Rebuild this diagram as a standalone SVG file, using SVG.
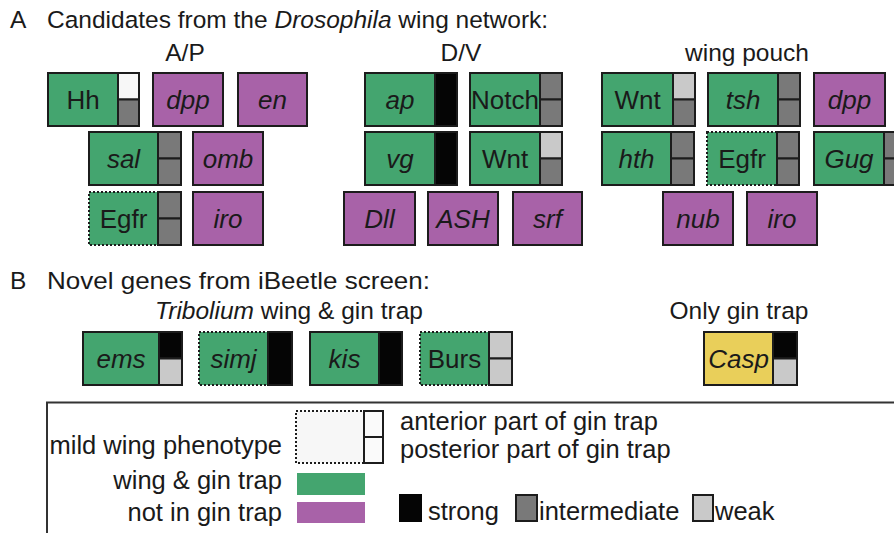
<svg xmlns="http://www.w3.org/2000/svg" width="894" height="533" viewBox="0 0 894 533">
<style>
text{font-family:"Liberation Sans",Arial,sans-serif;fill:#1a1a1a}
.h{font-size:24.5px}
.lbl{font-size:26px;text-anchor:middle}
.lg{font-size:25.5px}
.it{font-style:italic}
.g{fill:#44a56f;stroke:#1c1c1c;stroke-width:2}
.p{fill:#a862a8;stroke:#1c1c1c;stroke-width:2}
.y{fill:#e9cf5a;stroke:#1c1c1c;stroke-width:2}
.dot{stroke-dasharray:2 2}
.s{fill:#050505;stroke:#1c1c1c;stroke-width:2}
.i{fill:#797979;stroke:#1c1c1c;stroke-width:2}
.w{fill:#c9c9c9;stroke:#1c1c1c;stroke-width:2}
.e{fill:#f7f7f7;stroke:#1c1c1c;stroke-width:2}
.frame{fill:none;stroke:#333;stroke-width:2}
</style>
<rect width="894" height="533" fill="#ffffff"/>

<g id="headers">
<text class="h" x="10" y="28">A</text>
<text class="h" x="47" y="28">Candidates from the <tspan class="it">Drosophila</tspan> wing network:</text>
<text class="h" x="185" y="61" text-anchor="middle">A/P</text>
<text class="h" x="461" y="61" text-anchor="middle">D/V</text>
<text class="h" x="747" y="61" text-anchor="middle">wing pouch</text>
<text class="h" x="10" y="289">B</text>
<text class="h" x="47" y="289" textLength="383" lengthAdjust="spacingAndGlyphs">Novel genes from iBeetle screen:</text>
<text class="h" x="289" y="319" text-anchor="middle"><tspan class="it">Tribolium</tspan> wing &amp; gin trap</text>
<text class="h" x="739" y="319" text-anchor="middle">Only gin trap</text>
</g>

<!-- A/P -->
<g id="ap-Hh"><rect class="g" x="48" y="73" width="70" height="53"/><rect class="e" x="118" y="73" width="21" height="26.5"/><rect class="i" x="118" y="99.5" width="21" height="26.5"/><text class="lbl" x="83" y="109">Hh</text></g>
<g id="ap-dpp"><rect class="p" x="153" y="73" width="70" height="53"/><text class="lbl it" x="188" y="109">dpp</text></g>
<g id="ap-en"><rect class="p" x="238" y="73" width="69" height="53"/><text class="lbl it" x="272.5" y="109">en</text></g>
<g id="ap-sal"><rect class="g" x="89" y="132" width="69" height="53"/><rect class="i" x="158" y="132" width="23" height="26.5"/><rect class="i" x="158" y="158.5" width="23" height="26.5"/><text class="lbl it" x="123.5" y="168">sal</text></g>
<g id="ap-omb"><rect class="p" x="193" y="132" width="70" height="53"/><text class="lbl it" x="228" y="168">omb</text></g>
<g id="ap-Egfr"><rect class="g dot" x="89" y="192" width="69" height="53"/><rect class="i" x="158" y="192" width="23" height="26.5"/><rect class="i" x="158" y="218.5" width="23" height="26.5"/><text class="lbl" x="123.5" y="228">Egfr</text></g>
<g id="ap-iro"><rect class="p" x="193" y="192" width="70" height="53"/><text class="lbl it" x="228" y="228">iro</text></g>

<!-- D/V -->
<g id="dv-ap"><rect class="g" x="365" y="73" width="70" height="53"/><rect class="s" x="435" y="73" width="22" height="53"/><text class="lbl it" x="400" y="109">ap</text></g>
<g id="dv-Notch"><rect class="g" x="470" y="73" width="70" height="53"/><rect class="i" x="540" y="73" width="22" height="26.5"/><rect class="i" x="540" y="99.5" width="22" height="26.5"/><text class="lbl" x="505" y="109">Notch</text></g>
<g id="dv-vg"><rect class="g" x="365" y="132" width="70" height="53"/><rect class="s" x="435" y="132" width="22" height="53"/><text class="lbl it" x="400" y="168">vg</text></g>
<g id="dv-Wnt"><rect class="g" x="470" y="132" width="70" height="53"/><rect class="w" x="540" y="132" width="22" height="26.5"/><rect class="i" x="540" y="158.5" width="22" height="26.5"/><text class="lbl" x="505" y="168">Wnt</text></g>
<g id="dv-Dll"><rect class="p" x="344" y="192" width="71" height="53"/><text class="lbl it" x="379.5" y="228">Dll</text></g>
<g id="dv-ASH"><rect class="p" x="428" y="192" width="70" height="53"/><text class="lbl it" x="463" y="228">ASH</text></g>
<g id="dv-srf"><rect class="p" x="513" y="192" width="69" height="53"/><text class="lbl it" x="547.5" y="228">srf</text></g>

<!-- wing pouch -->
<g id="wp-Wnt"><rect class="g" x="602" y="73" width="71" height="53"/><rect class="w" x="673" y="73" width="22" height="26.5"/><rect class="i" x="673" y="99.5" width="22" height="26.5"/><text class="lbl" x="637.5" y="109">Wnt</text></g>
<g id="wp-tsh"><rect class="g" x="708" y="73" width="70" height="53"/><rect class="i" x="778" y="73" width="22" height="26.5"/><rect class="i" x="778" y="99.5" width="22" height="26.5"/><text class="lbl it" x="743" y="109">tsh</text></g>
<g id="wp-dpp"><rect class="p" x="814" y="73" width="71" height="53"/><text class="lbl it" x="849.5" y="109">dpp</text></g>
<g id="wp-hth"><rect class="g" x="602" y="132" width="69" height="53"/><rect class="i" x="671" y="132" width="23" height="26.5"/><rect class="i" x="671" y="158.5" width="23" height="26.5"/><text class="lbl it" x="636.5" y="168">hth</text></g>
<g id="wp-Egfr"><rect class="g dot" x="707" y="132" width="70" height="53"/><rect class="i" x="777" y="132" width="22" height="26.5"/><rect class="i" x="777" y="158.5" width="22" height="26.5"/><text class="lbl" x="742" y="168">Egfr</text></g>
<g id="wp-Gug"><rect class="g" x="814" y="132" width="70" height="53"/><rect class="i" x="884" y="132" width="22" height="26.5"/><rect class="i" x="884" y="158.5" width="22" height="26.5"/><text class="lbl it" x="849" y="168">Gug</text></g>
<g id="wp-nub"><rect class="p" x="663" y="192" width="70" height="53"/><text class="lbl it" x="698" y="228">nub</text></g>
<g id="wp-iro"><rect class="p" x="747" y="192" width="70" height="53"/><text class="lbl it" x="782" y="228">iro</text></g>

<!-- B -->
<g id="b-ems"><rect class="g" x="83" y="332" width="76" height="53"/><rect class="s" x="159" y="332" width="23" height="26.5"/><rect class="w" x="159" y="358.5" width="23" height="26.5"/><text class="lbl it" x="121" y="368">ems</text></g>
<g id="b-simj"><rect class="g dot" x="199" y="332" width="69" height="53"/><rect class="s" x="268" y="332" width="24" height="53"/><text class="lbl it" x="233.5" y="368">simj</text></g>
<g id="b-kis"><rect class="g" x="310" y="332" width="69" height="53"/><rect class="s" x="379" y="332" width="23" height="53"/><text class="lbl it" x="344.5" y="368">kis</text></g>
<g id="b-Burs"><rect class="g dot" x="420" y="332" width="69" height="53"/><rect class="w" x="489" y="332" width="23" height="26.5"/><rect class="w" x="489" y="358.5" width="23" height="26.5"/><text class="lbl" x="454.5" y="368">Burs</text></g>
<g id="b-Casp"><rect class="y" x="704" y="332" width="69" height="53"/><rect class="s" x="773" y="332" width="24" height="26.5"/><rect class="w" x="773" y="358.5" width="24" height="26.5"/><text class="lbl it" x="738.5" y="368">Casp</text></g>

<!-- legend -->
<g id="legend">
<path class="frame" d="M47 533 V402.5 H894"/>
<text class="lg" x="282" y="454" text-anchor="end">mild wing phenotype</text>
<rect x="296" y="411" width="68" height="52" fill="#f7f7f7" stroke="#1c1c1c" stroke-width="2" stroke-dasharray="2 2"/>
<rect x="364" y="411" width="19" height="26" fill="#fafafa" stroke="#1c1c1c" stroke-width="2"/>
<rect x="364" y="437" width="19" height="26" fill="#fafafa" stroke="#1c1c1c" stroke-width="2"/>
<text class="lg" x="400" y="430">anterior part of gin trap</text>
<text class="lg" x="400" y="458">posterior part of gin trap</text>
<text class="lg" x="282" y="489" text-anchor="end">wing &amp; gin trap</text>
<rect x="297" y="473" width="68" height="22" fill="#44a56f"/>
<text class="lg" x="282" y="521" text-anchor="end">not in gin trap</text>
<rect x="297" y="502" width="68" height="21" fill="#a862a8"/>
<rect x="399" y="494" width="23" height="28" fill="#050505"/>
<text class="lg" x="428" y="520">strong</text>
<rect x="516" y="495" width="21" height="26" class="i"/>
<text class="lg" x="539" y="520">intermediate</text>
<rect x="693" y="495" width="20" height="26" class="w"/>
<text class="lg" x="715" y="520">weak</text>
</g>
</svg>
